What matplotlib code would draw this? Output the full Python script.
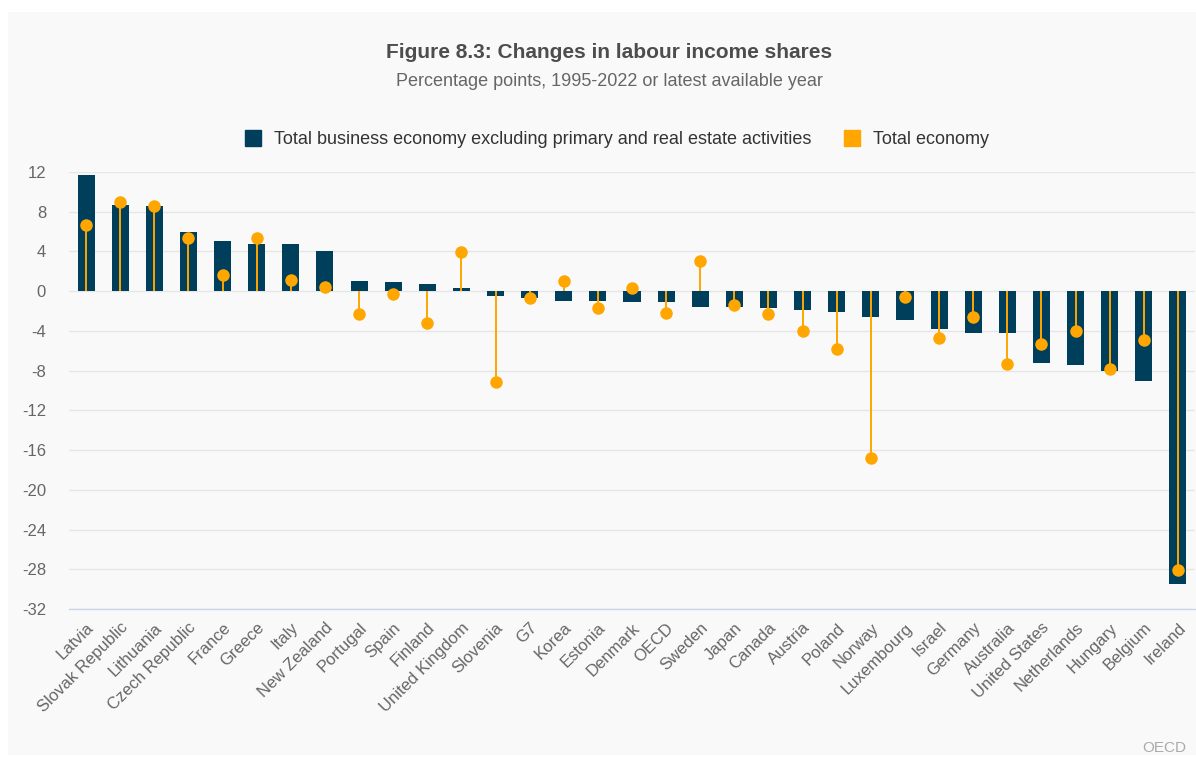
import matplotlib.pyplot as plt
from matplotlib.patches import Rectangle
from matplotlib.lines import Line2D
import numpy as np

plt.rcParams["font.family"] = ["Liberation Sans", "DejaVu Sans"]

countries = ["Latvia", "Slovak Republic", "Lithuania", "Czech Republic", "France",
             "Greece", "Italy", "New Zealand", "Portugal", "Spain", "Finland",
             "United Kingdom", "Slovenia", "G7", "Korea", "Estonia", "Denmark",
             "OECD", "Sweden", "Japan", "Canada", "Austria", "Poland", "Norway",
             "Luxembourg", "Israel", "Germany", "Australia", "United States",
             "Netherlands", "Hungary", "Belgium", "Ireland"]
business = [11.7, 8.7, 8.6, 6.0, 5.1, 4.8, 4.8, 4.0, 1.0, 0.9, 0.7,
            0.3, -0.5, -0.7, -1.0, -1.0, -1.1, -1.1, -1.6, -1.6, -1.7, -1.9,
            -2.1, -2.6, -2.9, -3.8, -4.2, -4.2, -7.2, -7.4, -8.0, -9.0, -29.5]
total = [6.7, 9.0, 8.6, 5.4, 1.6, 5.4, 1.1, 0.4, -2.3, -0.3, -3.2,
         3.9, -9.1, -0.7, 1.0, -1.7, 0.3, -2.2, 3.0, -1.4, -2.3, -4.0,
         -5.8, -16.8, -0.6, -4.7, -2.6, -7.3, -5.3, -4.0, -7.8, -4.9, -28.1]
yticks = list(range(-32, 13, 4))

DARK = "#003F5C"
ORANGE = "#FFA600"
W, H = 1196, 757

fig = plt.figure(figsize=(W / 100, H / 100), dpi=100)
fig.patch.set_facecolor("white")
fig.patches.append(Rectangle((8 / W, 2 / H), (W - 8) / W, (H - 14) / H,
                             transform=fig.transFigure, facecolor="#F9F9F9",
                             edgecolor="none", zorder=-5))

ax = fig.add_axes([69 / W, 1 - 609 / H, (1195 - 69) / W, (609 - 172) / H])
ax.set_facecolor("none")
x = np.arange(len(countries))

ax.bar(x, business, width=0.5, color=DARK, zorder=2)
ax.vlines(x, 0, total, color=ORANGE, lw=1.4, zorder=3)
ax.plot(x, total, "o", color=ORANGE, ms=9, mec="none", zorder=4)

ax.set_xlim(-0.5, len(countries) - 0.5)
ax.set_ylim(-32, 12)
ax.set_yticks(yticks)
ax.set_yticklabels([str(t) for t in yticks], color="#666666", fontsize=12)
ax.yaxis.grid(True, color="#E6E6E6", lw=1, zorder=0)
ax.tick_params(axis="y", length=0, pad=16.5)
ax.set_xticks(x)
ax.set_xticklabels(countries, rotation=45, ha="right", rotation_mode="anchor",
                   color="#666666", fontsize=12)
ax.tick_params(axis="x", length=0, pad=8)
for s in ["top", "right", "left"]:
    ax.spines[s].set_visible(False)
ax.spines["bottom"].set_color("#CCD6EB")
ax.spines["bottom"].set_linewidth(1)

fig.text(609 / W, 1 - 52 / H, "Figure 8.3: Changes in labour income shares",
         ha="center", va="center", fontsize=15, fontweight="bold", color="#4D4D4D")
fig.text(609 / W, 1 - 82 / H, "Percentage points, 1995-2022 or latest available year",
         ha="center", va="center", fontsize=13, color="#666666")

handles = [Line2D([], [], marker="s", ls="none", color=DARK, ms=11),
           Line2D([], [], marker="s", ls="none", color=ORANGE, ms=11)]
fig.legend(handles, ["Total business economy excluding primary and real estate activities",
                     "Total economy"],
           loc="center", bbox_to_anchor=(612 / W, 1 - 140 / H), ncol=2, frameon=False,
           fontsize=13, labelcolor="#333333", handletextpad=0.2, columnspacing=1.2)

fig.text(1186 / W, 1 - 748 / H, "OECD", ha="right", va="center",
         fontsize=11, color="#AAAAAA")

fig.savefig("out.png", dpi=100, facecolor=fig.get_facecolor())
